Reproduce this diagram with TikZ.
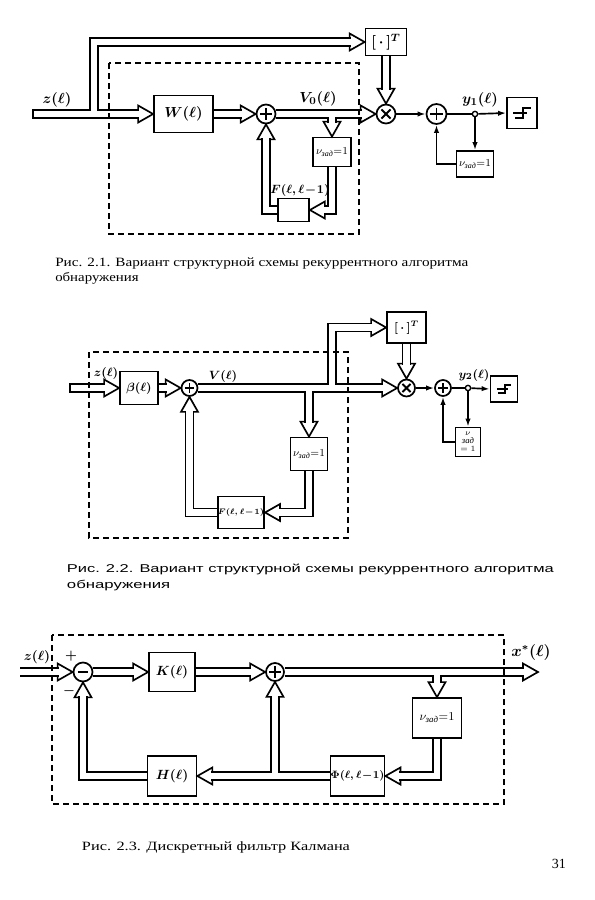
\documentclass[tikz,border=0pt]{standalone}
\usepackage{amsmath}
\usepackage{fontspec}
\setmainfont{Liberation Serif}
\newfontfamily\capsans{Liberation Sans}
\usetikzlibrary{arrows.meta,calc}
\pgfdeclarelayer{bgfill}
\pgfdeclarelayer{heads}
\pgfdeclarelayer{vlines}
\pgfsetlayers{bgfill,heads,vlines,main}
\newcommand\vhd[2]{\draw[line width=1.25pt, fill=white, line join=miter, shift={(#1)}, rotate=#2] (0,0) -- (-15,8.5) -- (-15,-8.5) -- cycle;}
\newcommand\stepsym[2]{\draw[line width=1.1pt, shift={(#1)}, scale=#2] (-9,0) -- (4.5,0) (-7,5) -- (1,5) -- (1,-5) -- (9,-5);}
\newcommand\nuz{$\nu_{\text{\itshape зад}}{=}1$}
\begin{document}
\begin{tikzpicture}[x=0.75pt,y=-0.75pt,
  box/.style={draw, line width=1.3pt, inner sep=0pt, font=\boldmath\fontsize{11}{13}\selectfont},
  lab/.style={inner sep=0pt, font=\boldmath\fontsize{11}{13}\selectfont},
  plusc/.style={circle, draw, line width=1.3pt, inner sep=0pt, minimum size=#1,
    path picture={\draw[line width=1.2pt]
      ($(path picture bounding box.center)!0.62!(path picture bounding box.north)$) --
      ($(path picture bounding box.center)!0.62!(path picture bounding box.south)$)
      ($(path picture bounding box.center)!0.62!(path picture bounding box.west)$) --
      ($(path picture bounding box.center)!0.62!(path picture bounding box.east)$);}},
  minusc/.style={circle, draw, line width=1.3pt, inner sep=0pt, minimum size=#1,
    path picture={\draw[line width=1.2pt]
      ($(path picture bounding box.center)!0.55!(path picture bounding box.west)$) --
      ($(path picture bounding box.center)!0.55!(path picture bounding box.east)$);}},
  timesc/.style={circle, draw, line width=1.3pt, inner sep=0pt, minimum size=#1,
    path picture={\draw[line width=1.4pt]
      ($(path picture bounding box.center)!0.48!(path picture bounding box.north east)$) --
      ($(path picture bounding box.center)!0.48!(path picture bounding box.south west)$)
      ($(path picture bounding box.center)!0.48!(path picture bounding box.north west)$) --
      ($(path picture bounding box.center)!0.48!(path picture bounding box.south east)$);}},
  dotc/.style={circle, draw, line width=1pt, fill=white, inner sep=0pt, minimum size=4pt},
  vec/.style={double, double distance=4.8pt, line width=1.25pt, line join=miter},
  sl/.style={line width=1.25pt},
  sarr/.style={line width=1.25pt, -{Latex[length=6pt,width=4pt]}},
  dbox/.style={line width=0.8pt, dash pattern=on 4.5pt off 3pt},
  captxt/.style={anchor=base west, inner sep=0pt, font=\fontsize{9.5}{11}\selectfont}
]
\useasboundingbox (0,0) rectangle (594,900);
\begin{pgfonlayer}{bgfill}
\fill[white] (0,0) rectangle (594,900);
\end{pgfonlayer}

% ================= Figure 2.1 =================
\node[box, minimum width=44.25pt, minimum height=27.75pt] (W) at (183.5,114) {$W(\ell)$};
\node[plusc=14.25pt] (P1) at (266,114) {};
\node[timesc=14.25pt] (X1) at (386,114) {};
\node[box, minimum width=30.75pt, minimum height=20.25pt] (T1) at (386,42) {$[\,\cdot\,]^{T}$};
\node[box, minimum width=28.5pt, minimum height=21.75pt, font=\fontsize{8}{9}\selectfont] (N1) at (332,152) {\nuz};
\node[box, minimum width=23.25pt, minimum height=17.25pt] (F1) at (293.5,210) {};
\node[lab, font=\boldmath\fontsize{9.5}{11}\selectfont] (F1l) at (300,190) {$F(\ell,\ell\!-\!1)$};
\node[plusc=15pt] (P2) at (436.5,114) {};
\node[dotc] (D1) at (475,114) {};
\node[box, minimum width=22.5pt, minimum height=23.25pt] (Th1) at (522,113) {};
\stepsym{Th1.center}{1}
\node[box, minimum width=27.75pt, minimum height=19.5pt, font=\fontsize{8}{9}\selectfont] (N1b) at (475,164) {\nuz};
\node[lab] (z1) at (57,100) {$z(\ell)$};
\node[lab] (v1) at (318,99) {$V_0(\ell)$};
\node[lab] (y1) at (480,100) {$y_1(\ell)$};
\coordinate (in1) at (33,114);
\draw[dbox] (109,63) rectangle (359,234);

\begin{pgfonlayer}{heads}
\vhd{W.west}{0}
\vhd{T1.west}{0}
\vhd{P1.west}{0}
\vhd{X1.west}{0}
\vhd{N1.north}{-90}
\vhd{F1.east}{180}
\vhd{P1.south}{90}
\vhd{X1.north}{-90}
\end{pgfonlayer}
\begin{pgfonlayer}{vlines}
\draw[vec] (in1) -- ([xshift=-10.5pt]W.west) (94,114) |- ([xshift=-10.5pt]T1.west);
\draw[vec] (W.east) -- ([xshift=-10.5pt]P1.west);
\draw[vec] (P1.east) -- ([xshift=-10.5pt]X1.west) (332,114) -- ([yshift=10.5pt]N1.north);
\draw[vec] (N1.south) |- ([xshift=10.5pt]F1.east);
\draw[vec] (F1.west) -| ([yshift=-10.5pt]P1.south);
\draw[vec] (T1.south) -- ([yshift=10.5pt]X1.north);
\end{pgfonlayer}
\draw[sl] ([yshift=3.6pt]in1) -- ([yshift=-3.6pt]in1);
\draw[sarr] (X1.east) -- (P2.west);
\draw[sl] (P2.east) -- (D1);
\draw[sarr] (D1) -- (Th1.west);
\draw[sarr] (D1) -- (N1b.north);
\draw[sarr] (N1b.west) -| (P2.south);

\node[captxt] (c1a) at (55,266.7) {\resizebox{309.75pt}{\height}{Рис. 2.1. Вариант структурной схемы рекуррентного алгоритма}};
\node[captxt] (c1b) at (55,281.7) {\resizebox{62.5pt}{\height}{обнаружения}};

% ================= Figure 2.2 =================
\node[box, minimum width=28.5pt, minimum height=24.75pt, font=\boldmath\fontsize{9}{11}\selectfont] (B) at (139,388) {$\beta(\ell)$};
\node[plusc=12pt] (P3) at (189.5,388) {};
\node[timesc=12.75pt] (X2) at (406.5,388) {};
\node[box, minimum width=29.25pt, minimum height=23.25pt, font=\boldmath\fontsize{9}{11}\selectfont] (T2) at (406.5,327.5) {$[\,\cdot\,]^{T}$};
\node[box, minimum width=27.75pt, minimum height=24.75pt, font=\fontsize{8}{9}\selectfont] (N2) at (309,454) {\nuz};
\node[box, minimum width=27.75pt, minimum height=24pt, font=\boldmath\fontsize{6.3}{8}\selectfont] (F2) at (241,512.5) {$F(\ell,\ell\!-\!1)$};
\node[plusc=12pt] (P4) at (443,388) {};
\node[dotc] (D2) at (468,388) {};
\node[box, minimum width=20.25pt, minimum height=19.5pt] (Th2) at (504,389) {};
\stepsym{Th2.center}{0.8}
\node[box, minimum width=18.75pt, minimum height=21.75pt, align=center, font=\fontsize{6.5}{6}\selectfont] (N2b) at (468,442) {$\nu$\\ \textit{зад}\\ $=1$};
\node[lab, font=\boldmath\fontsize{9}{11}\selectfont] (z2) at (106,373) {$z(\ell)$};
\node[lab, font=\boldmath\fontsize{9.5}{11}\selectfont] (v2) at (223,376) {$V(\ell)$};
\node[lab, font=\boldmath\fontsize{9.5}{11}\selectfont] (y2) at (474,375) {$y_2(\ell)$};
\coordinate (in2) at (70,388);
\draw[dbox] (89,352) rectangle (348,538);

\begin{pgfonlayer}{heads}
\vhd{B.west}{0}
\vhd{P3.west}{0}
\vhd{X2.west}{0}
\vhd{T2.west}{0}
\vhd{N2.north}{-90}
\vhd{F2.east}{180}
\vhd{P3.south}{90}
\vhd{X2.north}{-90}
\end{pgfonlayer}
\begin{pgfonlayer}{vlines}
\draw[vec] (in2) -- ([xshift=-10.5pt]B.west);
\draw[vec] (B.east) -- ([xshift=-10.5pt]P3.west);
\draw[vec] (P3.east) -- ([xshift=-10.5pt]X2.west) (332,388) |- ([xshift=-10.5pt]T2.west) (309,388) -- ([yshift=10.5pt]N2.north);
\draw[vec] (N2.south) |- ([xshift=10.5pt]F2.east);
\draw[vec] (F2.west) -| ([yshift=-10.5pt]P3.south);
\draw[vec] (T2.south) -- ([yshift=10.5pt]X2.north);
\end{pgfonlayer}
\draw[sl] ([yshift=3.6pt]in2) -- ([yshift=-3.6pt]in2);
\draw[sarr] (X2.east) -- (P4.west);
\draw[sl] (P4.east) -- (D2);
\draw[sarr] (D2) -- (Th2.west);
\draw[sarr] (D2) -- (N2b.north);
\draw[sarr] (N2b.west) -| (P4.south);

\node[captxt, font=\capsans\fontsize{8.5}{10}\selectfont] (c2a) at (66.7,572) {\resizebox{365pt}{\height}{Рис. 2.2. Вариант структурной схемы рекуррентного алгоритма}};
\node[captxt, font=\capsans\fontsize{8.5}{10}\selectfont] (c2b) at (66.7,588) {\resizebox{77.5pt}{\height}{обнаружения}};

% ================= Figure 2.3 =================
\node[minusc=14.25pt] (M) at (83,672) {};
\node[box, minimum width=34.5pt, minimum height=29.25pt, font=\boldmath\fontsize{10}{12}\selectfont] (K) at (172,672) {$K(\ell)$};
\node[plusc=13.5pt] (P5) at (275,672) {};
\coordinate (out) at (538,672);
\node[box, minimum width=36.75pt, minimum height=30pt, font=\fontsize{9.5}{11}\selectfont] (N3) at (437,718) {\nuz};
\node[box, minimum width=39pt, minimum height=30pt, font=\boldmath\fontsize{8.3}{10}\selectfont] (Phi) at (357.5,776) {$\Phi(\ell,\ell\!-\!1)$};
\node[box, minimum width=36.75pt, minimum height=30pt, font=\boldmath\fontsize{10}{12}\selectfont] (H) at (172,776) {$H(\ell)$};
\node[lab, font=\boldmath\fontsize{10}{12}\selectfont] (z3) at (37,657) {$z(\ell)$};
\node[lab, font=\boldmath\fontsize{10}{12}\selectfont] (pl) at (71,656) {$+$};
\node[lab, font=\boldmath\fontsize{10}{12}\selectfont] (mi) at (69,691) {$-$};
\node[lab, font=\boldmath\fontsize{12}{14}\selectfont] (xs) at (531,652) {$x^{*}(\ell)$};
\draw[dbox] (52,635) rectangle (504,804);

\begin{pgfonlayer}{heads}
\vhd{M.west}{0}
\vhd{K.west}{0}
\vhd{P5.west}{0}
\vhd{out}{0}
\vhd{N3.north}{-90}
\vhd{Phi.east}{180}
\vhd{H.east}{180}
\vhd{P5.south}{90}
\vhd{M.south}{90}
\end{pgfonlayer}
\begin{pgfonlayer}{vlines}
\draw[vec] (20,672) -- ([xshift=-10.5pt]M.west);
\draw[vec] (M.east) -- ([xshift=-10.5pt]K.west);
\draw[vec] (K.east) -- ([xshift=-10.5pt]P5.west);
\draw[vec] (P5.east) -- ([xshift=-10.5pt]out) (437,672) -- ([yshift=10.5pt]N3.north);
\draw[vec] (N3.south) |- ([xshift=10.5pt]Phi.east);
\draw[vec] (Phi.west) -- ([xshift=10.5pt]H.east) (275,776) -- ([yshift=-10.5pt]P5.south);
\draw[vec] (H.west) -| ([yshift=-10.5pt]M.south);
\end{pgfonlayer}

\node[captxt] (c3) at (81.7,850) {\resizebox{201pt}{\height}{Рис. 2.3. Дискретный фильтр Калмана}};
\node[captxt, font=\fontsize{10.5}{12}\selectfont] (pg) at (551.7,868.3) {31};
\end{tikzpicture}
\end{document}
